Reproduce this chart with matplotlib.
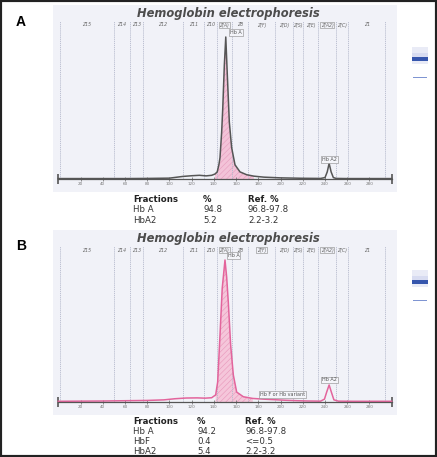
import matplotlib
matplotlib.use('Agg')
import matplotlib.pyplot as plt
from matplotlib.patches import Rectangle

W, H = 437, 457

# zones of the capillary electrophoresis (migration units)
zone_edges = [1.5, 50, 64.5, 76, 112, 131, 143, 156, 170.5, 195, 211, 220, 234, 250, 261, 294]
zone_names = ['Z15', 'Z14', 'Z13', 'Z12', 'Z11', 'Z10', 'Z(A)', 'Z8', 'Z(F)',
              'Z(D)', 'Z(S)', 'Z(E)', 'Z(A2)', 'Z(C)', 'Z1']
tick_vals = list(range(20, 300, 20))

# panel A trace (x = migration, y = % of max)
a_x = [0, 20, 40, 60, 80, 100, 106, 112, 120, 127, 133, 138, 141, 143, 144.5, 145.5, 147,
       148, 149.4, 150.7, 152.1, 153.9, 156, 159, 163.5, 169.5, 176, 185, 200, 220, 236,
       240, 242, 243.7, 245.5, 247.5, 250, 260, 280, 300]
a_y = [0.3, 0.3, 0.3, 0.3, 0.4, 0.6, 1.2, 1.8, 2.3, 2.6, 2.2, 2.6, 3.5, 5, 10, 15, 33,
       50, 80, 100, 73, 40, 22, 10, 5, 3, 2, 1.3, 0.8, 0.5, 0.4,
       1, 5, 11, 5, 1, 0.4, 0.3, 0.3, 0.3]
a_peaks = ['Hb A', 'Hb A2']
a_peak_x = [160, 243.7]
a_peak_y = [103.5, 14]
a_fractions = ['Hb A', 'HbA2']
a_pct = ['94.8', '5.2']
a_ref = ['96.8-97.8', '2.2-3.2']

# panel B trace
b_x = [0, 20, 40, 60, 80, 95, 105, 115, 125, 132, 138, 141.6, 143.4, 145.5, 147.5, 150,
       151.5, 153, 155.1, 157.5, 160.5, 166.5, 175, 185, 195, 205, 215, 225, 236, 239.5,
       241.5, 243.7, 245.7, 248, 252, 265, 280, 300]
b_y = [0.5, 0.6, 0.7, 0.9, 1.1, 1.5, 2.3, 2.8, 2.9, 2.7, 3, 5, 14, 47, 80, 100,
       88, 70, 40, 19, 7, 3.7, 2.5, 2, 1.6, 1.2, 0.9, 0.7, 0.6, 2,
       7, 12, 7, 1.5, 0.6, 0.5, 0.5, 0.5]
b_peaks = ['Hb A', 'Hb A2', 'Hb F or Hb variant']
b_peak_x = [157.7, 243.7, 202]
b_peak_y = [103.5, 15.5, 5]
b_fractions = ['Hb A', 'HbF', 'HbA2']
b_pct = ['94.2', '0.4', '5.4']
b_ref = ['96.8-97.8', '<=0.5', '2.2-3.2']

plt.rcParams['hatch.linewidth'] = 0.4
fig = plt.figure(figsize=(W / 100, H / 100), dpi=100)


def fx(p):
    return p / W


def fy(p):
    return 1 - p / H


PX_X = 1.1113   # pixels per migration unit
PX_Y = 1.42     # pixels per % unit


def panel(top, bottom, base, xs, ys, lc, fc, hc, boxed, peaks, peak_x, peak_y,
          letter, letter_y, gel_y, fr, pct, ref, table_y, cols):
    ax = fig.add_axes([fx(53), fy(bottom), fx(344), (bottom - top) / H])
    ax.set_facecolor('#f1f2f8')
    ax.set_xlim((53 - 58.3) / PX_X, (397 - 58.3) / PX_X)
    ax.set_ylim(-(bottom - base) / PX_Y, (base - top) / PX_Y)
    for s in ['top', 'left', 'right']:
        ax.spines[s].set_visible(False)
    ax.spines['bottom'].set_position(('data', 0))
    ax.spines['bottom'].set_bounds(0, 300)
    ax.spines['bottom'].set_color('#555555')
    ax.spines['bottom'].set_linewidth(0.9)
    ax.set_yticks([])
    ax.set_xticks(tick_vals)
    ax.set_xticklabels([str(t) for t in tick_vals])
    ax.set_xticks([0, 300], minor=True)
    ax.tick_params(axis='x', which='major', direction='inout', length=2.5, width=0.5,
                   color='#666666', labelsize=3, labelcolor='#777777', pad=1)
    ax.tick_params(axis='x', which='minor', direction='inout', length=7, width=1.2,
                   color='#555555')

    lab_y = (base - top - 20) / PX_Y
    ax.vlines(zone_edges, 0, lab_y + 3, colors='#b5b9cc', linestyles=(0, (1.5, 1)), lw=0.6)
    for i, name in enumerate(zone_names):
        mid = (zone_edges[i] + zone_edges[i + 1]) / 2
        bb = None
        if name in boxed:
            bb = dict(boxstyle='square,pad=0.15', fc='none', ec='#888888', lw=0.4)
        ax.text(mid, lab_y, name, fontsize=3.3, style='italic', color='#666666',
                ha='center', va='center', bbox=bb)
    ax.text(153, (base - top - 8) / PX_Y, 'Hemoglobin electrophoresis', fontsize=8.3,
            weight='bold', style='italic', color='#4d4d4d', ha='center', va='center')

    mask = [141 <= x <= 176 for x in xs]
    ax.fill_between(xs, ys, 0, where=mask, facecolor=fc, edgecolor=hc, hatch='//////',
                    lw=0)
    ax.plot(xs, ys, color=lc, lw=1.1)
    for t, x, y in zip(peaks, peak_x, peak_y):
        ax.text(x, y, t, fontsize=3.5, color='#555555', ha='center', va='center',
                bbox=dict(boxstyle='square,pad=0.2', fc='#f4f5fa', ec='#888888', lw=0.4))

    fig.text(fx(21), fy(letter_y), letter, fontsize=10, weight='bold',
             family='Liberation Sans', ha='center', va='center')

    # gel strip
    g = fig.add_axes([fx(408), fy(gel_y + 35), fx(24), 55 / H])
    g.set_xlim(0, 1)
    g.set_ylim(gel_y + 35, gel_y - 20)
    g.axis('off')
    g.axhspan(gel_y - 12, gel_y + 5, 0.17, 0.83, color='#e9ebf6', lw=0)
    g.axhspan(gel_y - 6, gel_y - 2, 0.17, 0.83, color='#d8dcf1', lw=0)
    g.axhspan(gel_y - 2, gel_y + 2, 0.17, 0.83, color='#3656ad', lw=0)
    g.axhspan(gel_y + 17.5, gel_y + 18.7, 0.2, 0.8, color='#7f95d2', lw=0)

    # fractions table
    fig.text(fx(cols[0]), fy(table_y), 'Fractions', fontsize=6.2, weight='bold',
             color='#222222', va='center')
    fig.text(fx(cols[1]), fy(table_y), '%', fontsize=6.2, weight='bold',
             color='#222222', va='center')
    fig.text(fx(cols[2]), fy(table_y), 'Ref. %', fontsize=6.2, weight='bold',
             color='#222222', va='center')
    for i in range(len(fr)):
        yy = fy(table_y + 10 * (i + 1))
        fig.text(fx(cols[0]), yy, fr[i], fontsize=6.2, color='#333333', va='center')
        fig.text(fx(cols[1]), yy, pct[i], fontsize=6.2, color='#333333', va='center')
        fig.text(fx(cols[2]), yy, ref[i], fontsize=6.2, color='#333333', va='center')


panel(5, 192, 179, a_x, a_y, '#555555', '#f3c3d8', '#e59cbd', ['Z(A)', 'Z(A2)'],
      a_peaks, a_peak_x, a_peak_y, 'A', 22, 59, a_fractions, a_pct, a_ref, 200,
      [133, 203, 248])
panel(230, 415, 402, b_x, b_y, '#e3649c', '#f5c6da', '#e896ba', ['Z(A)', 'Z(F)', 'Z(A2)'],
      b_peaks, b_peak_x, b_peak_y, 'B', 246, 282, b_fractions, b_pct, b_ref, 422,
      [133, 197, 245])

fig.add_artist(Rectangle((0, 0), 1, 1, transform=fig.transFigure, fill=False,
                         edgecolor='#222222', lw=3))

fig.savefig('out.png', dpi=100)
